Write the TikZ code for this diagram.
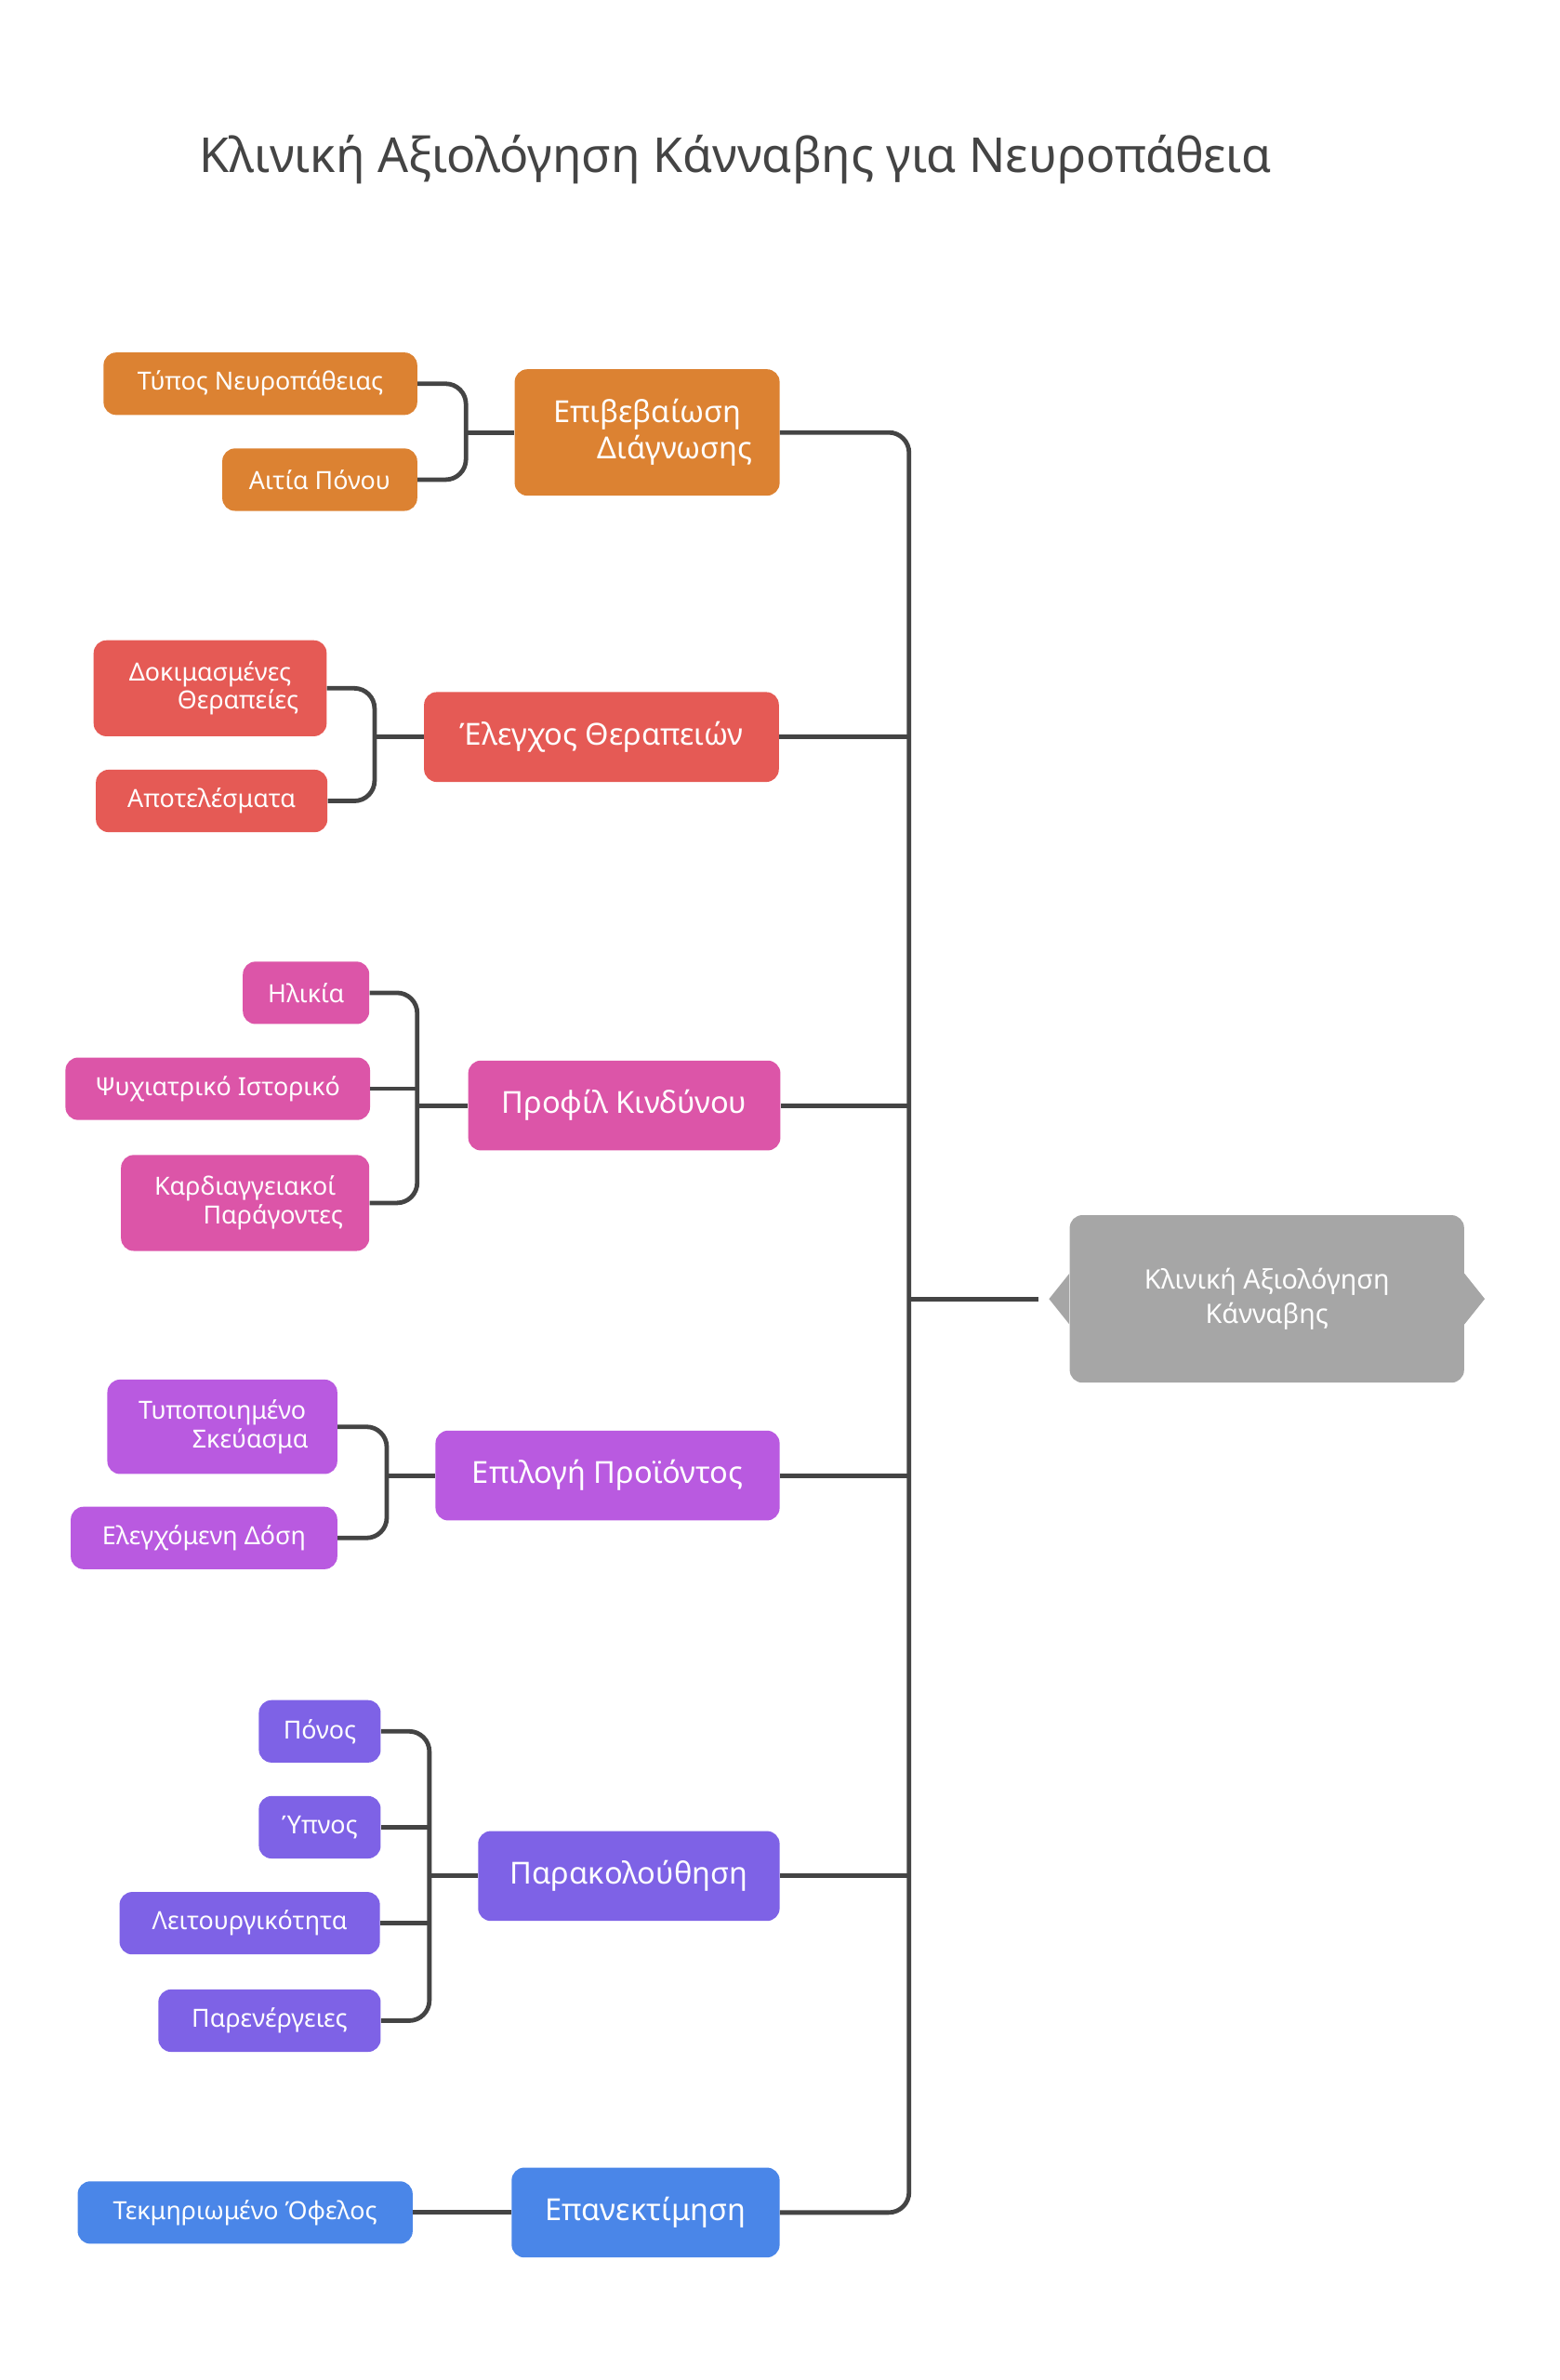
\documentclass[tikz,border=0pt]{standalone}
\usepackage{fontspec}
\setmainfont{Noto Sans}
\usetikzlibrary{positioning}
\definecolor{cDiag}{HTML}{DC8232}
\definecolor{cTher}{HTML}{E55A55}
\definecolor{cRisk}{HTML}{DC55A8}
\definecolor{cProd}{HTML}{B95AE0}
\definecolor{cMon}{HTML}{7E62E6}
\definecolor{cRe}{HTML}{4A86E8}
\definecolor{cMain}{HTML}{A6A6A6}
\definecolor{cLine}{HTML}{444444}
\tikzset{
  box/.style={rounded corners=0.25cm, text=white, inner sep=0pt, align=center, font=\fontsize{14}{16}\selectfont},
  sz/.style 2 args={minimum width=#1*0.03cm, minimum height=#2*0.03cm},
  br/.style={box, font=\fontsize{17}{20}\selectfont},
  ln/.style={draw=cLine, line width=2.5pt, rounded corners=0.4cm}
}
\begin{document}
\begin{tikzpicture}[x=0.03cm, y=-0.03cm]
\useasboundingbox (0,0) rectangle (1024,1563);

\node[text=cLine, font=\bfseries\fontsize{27}{30}\selectfont] (title) at (483,105) {Κλινική Αξιολόγηση Κάνναβης για Νευροπάθεια};

% branches
\node[br, fill=cDiag, sz={174}{83}] (d1) at (425,284) {Επιβεβαίωση\\\hspace*{1.1cm}Διάγνωσης};
\node[br, fill=cTher, sz={233}{59}] (d2) at (395,484) {Έλεγχος Θεραπειών};
\node[br, fill=cRisk, sz={205}{59}] (d3) at (410,726) {Προφίλ Κινδύνου};
\node[br, fill=cProd, sz={226}{59}] (d4) at (399,969) {Επιλογή Προϊόντος};
\node[br, fill=cMon, sz={198}{59}] (d5) at (413,1232) {Παρακολούθηση};
\node[br, fill=cRe, sz={176}{59}] (d6) at (424,1453) {Επανεκτίμηση};

% leaves
\node[box, fill=cDiag, sz={206}{41}] (t1) at (171,252) {Τύπος Νευροπάθειας};
\node[box, fill=cDiag, sz={128}{41}] (t2) at (210,315) {Αιτία Πόνου};
\node[box, fill=cTher, sz={153}{63}] (e1) at (138,452) {Δοκιμασμένες\\\hspace*{1.1cm}Θεραπείες};
\node[box, fill=cTher, sz={152}{41}] (e2) at (139,526) {Αποτελέσματα};
\node[box, fill=cRisk, sz={83}{41}] (p1) at (201,652) {Ηλικία};
\node[box, fill=cRisk, sz={200}{41}] (p2) at (143,715) {Ψυχιατρικό Ιστορικό};
\node[box, fill=cRisk, sz={163}{63}] (p3) at (161,790) {Καρδιαγγειακοί\\\hspace*{1.1cm}Παράγοντες};
\node[box, fill=cProd, sz={151}{62}] (s1) at (146,937) {Τυποποιημένο\\\hspace*{1.1cm}Σκεύασμα};
\node[box, fill=cProd, sz={175}{41}] (s2) at (134,1010) {Ελεγχόμενη Δόση};
\node[box, fill=cMon, sz={80}{41}] (m1) at (210,1137) {Πόνος};
\node[box, fill=cMon, sz={80}{41}] (m2) at (210,1200) {Ύπνος};
\node[box, fill=cMon, sz={171}{41}] (m3) at (164,1263) {Λειτουργικότητα};
\node[box, fill=cMon, sz={146}{41}] (m4) at (177,1327) {Παρενέργειες};
\node[box, fill=cRe, sz={220}{41}] (r1) at (161,1453) {Τεκμηριωμένο Όφελος};

% central node
\node[box, fill=cMain, sz={259}{110}, font=\bfseries\fontsize{15}{19}\selectfont] (c) at (832,853) {Κλινική Αξιολόγηση\\Κάνναβης};
\fill[cMain] ([yshift=0.5cm]c.west) -- ([xshift=-0.4cm]c.west) -- ([yshift=-0.5cm]c.west) -- cycle;
\fill[cMain] ([yshift=0.5cm]c.east) -- ([xshift=0.4cm]c.east) -- ([yshift=-0.5cm]c.east) -- cycle;
\coordinate (ct) at ([xshift=-0.6cm]c.west);

% bracket points
\coordinate (b1) at (306,284);
\coordinate (b2) at (246,484);
\coordinate (b3) at (274,726);
\coordinate (b4) at (254,969);
\coordinate (b5) at (282,1232);
\coordinate (tr) at (597,853);

\draw[ln] (t1.east) -| (b1) |- (t2.east);
\draw[ln] (b1) -- (d1.west);
\draw[ln] (e1.east) -| (b2) |- (e2.east);
\draw[ln] (b2) -- (d2.west);
\draw[ln] (p1.east) -| (b3) |- (p3.east);
\draw[ln] (p2.east) -- (p2.east -| b3);
\draw[ln] (b3) -- (d3.west);
\draw[ln] (s1.east) -| (b4) |- (s2.east);
\draw[ln] (b4) -- (d4.west);
\draw[ln] (m1.east) -| (b5) |- (m4.east);
\draw[ln] (m2.east) -- (m2.east -| b5);
\draw[ln] (m3.east) -- (m3.east -| b5);
\draw[ln] (b5) -- (d5.west);
\draw[ln] (r1.east) -- (d6.west);

% trunk
\draw[ln] (d1.east) -| (tr) |- (d6.east);
\draw[ln] (d2.east) -- (d2.east -| tr);
\draw[ln] (d3.east) -- (d3.east -| tr);
\draw[ln] (d4.east) -- (d4.east -| tr);
\draw[ln] (d5.east) -- (d5.east -| tr);
\draw[ln] (tr) -- (ct);
\end{tikzpicture}
\end{document}
